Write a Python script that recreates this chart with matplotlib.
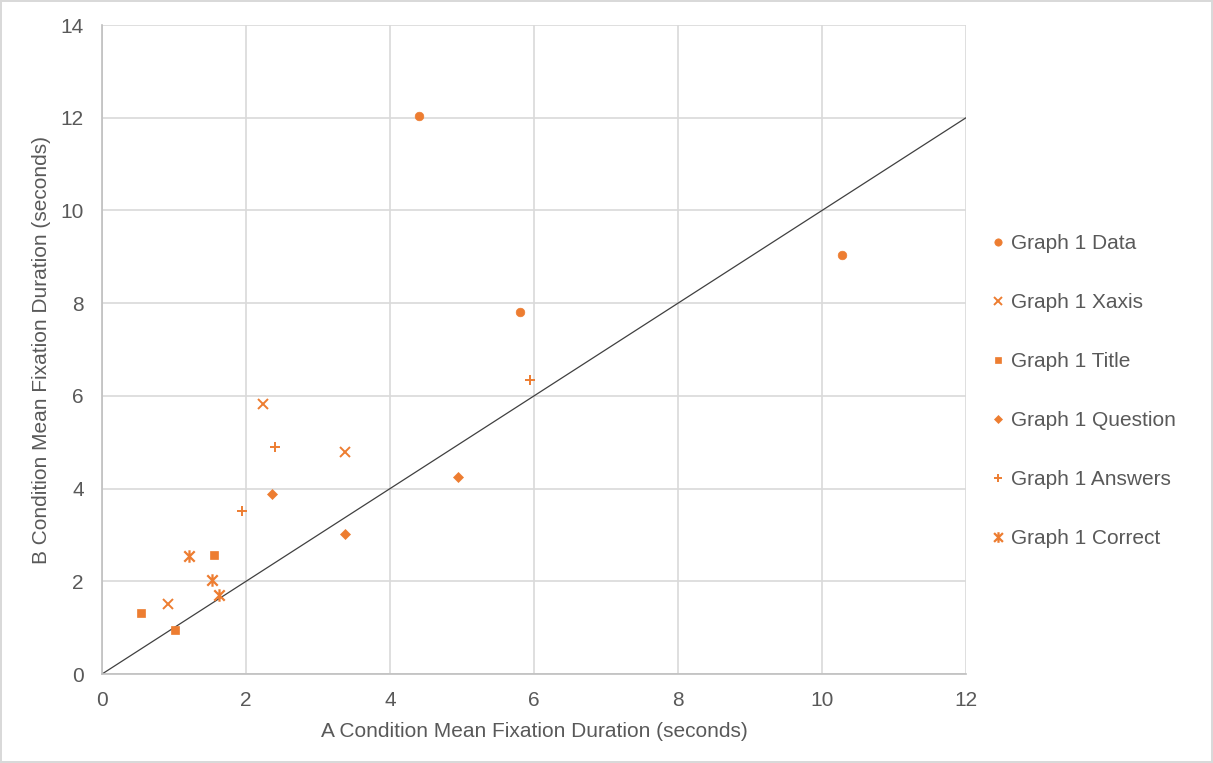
import matplotlib
matplotlib.use("Agg")
import matplotlib.pyplot as plt
from matplotlib.path import Path

plt.rcParams['font.family'] = ['Liberation Sans', 'DejaVu Sans']

# Mean fixation durations (seconds) per area of interest: A condition vs B condition
data_a = [4.40, 5.80, 10.28]
data_b = [12.03, 7.82, 9.04]
xaxis_a = [2.23, 3.37, 0.91]
xaxis_b = [5.83, 4.79, 1.52]
title_a = [1.55, 0.54, 1.02]
title_b = [2.57, 1.32, 0.94]
question_a = [2.36, 3.38, 4.94]
question_b = [3.88, 3.02, 4.25]
answers_a = [2.40, 1.94, 5.94]
answers_b = [4.90, 3.52, 6.35]
correct_a = [1.21, 1.53, 1.62]
correct_b = [2.55, 2.03, 1.71]

ORANGE = "#ED7D31"
TEXT = "#595959"
GRID = "#D9D9D9"

# x with a vertical bar through it
star = Path([(-1, -1), (1, 1), (-1, 1), (1, -1), (0, -1.2), (0, 1.2)],
            [Path.MOVETO, Path.LINETO, Path.MOVETO, Path.LINETO, Path.MOVETO, Path.LINETO])

series = [
    ("Graph 1 Data", data_a, data_b, "o", 6.2, 0.5),
    ("Graph 1 Xaxis", xaxis_a, xaxis_b, "x", 7, 1.4),
    ("Graph 1 Title", title_a, title_b, "s", 5.8, 0.5),
    ("Graph 1 Question", question_a, question_b, "D", 5, 0.5),
    ("Graph 1 Answers", answers_a, answers_b, "+", 7.5, 1.4),
    ("Graph 1 Correct", correct_a, correct_b, star, 9, 1.6),
]

fig = plt.figure(figsize=(12.13, 7.63), dpi=100)
fig.patch.set_edgecolor(GRID)
fig.patch.set_linewidth(1.5)
ax = fig.add_axes([0.0841, 0.1166, 0.7123, 0.8506])

for label, xs, ys, m, ms, mew in series:
    face = "none" if m is star else ORANGE
    ax.plot(xs, ys, linestyle="none", marker=m, markersize=ms, color=ORANGE,
            markerfacecolor=face, markeredgecolor=ORANGE, markeredgewidth=mew,
            label=label)

# reference line y = x
ax.plot([0, 12], [0, 12], color="#404040", linewidth=0.9, zorder=1.5)

ax.set_xlim(0, 12)
ax.set_ylim(0, 14)
ax.set_xticks(range(0, 13, 2))
ax.set_yticks(range(0, 15, 2))
ax.grid(True, color=GRID, linewidth=1.2)
ax.set_axisbelow(True)
ax.tick_params(length=0, labelsize=15, labelcolor=TEXT)
ax.tick_params(axis="y", pad=13)
ax.tick_params(axis="x", pad=12)
for s in ("top", "right"):
    ax.spines[s].set_visible(False)
for s in ("left", "bottom"):
    ax.spines[s].set_color("#BFBFBF")
    ax.spines[s].set_linewidth(1.2)

ax.set_xlabel("A Condition Mean Fixation Duration (seconds)", fontsize=15, color=TEXT, labelpad=9)
ax.set_ylabel("B Condition Mean Fixation Duration (seconds)", fontsize=15, color=TEXT, labelpad=7)

leg = ax.legend(loc="center left", bbox_to_anchor=(1.02, 0.436), frameon=False,
                fontsize=15, labelspacing=1.92, handlelength=0.6, handletextpad=0.35,
                borderaxespad=0, markerscale=0.85)
for t in leg.get_texts():
    t.set_color(TEXT)

fig.savefig("out.png", dpi=100)
